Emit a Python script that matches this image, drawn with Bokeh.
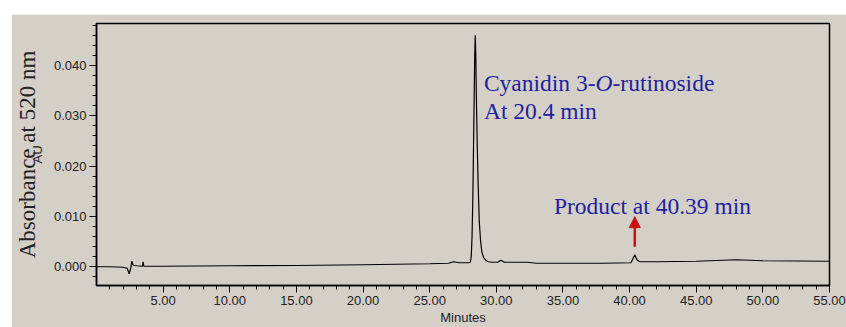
from bokeh.plotting import figure
from bokeh.models import (Range1d, FixedTicker, NumeralTickFormatter, Label,
                          Arrow, NormalHead, LinearAxis)
from bokeh.embed import file_html
from bokeh.resources import INLINE

# ---- data ----
time_min = [0.0, 1.0, 2.0, 2.3, 2.45, 2.55, 2.65, 2.75, 3.0, 3.45, 3.5, 3.55,
            5.0, 10.0, 15.0, 20.0, 25.0, 26.4, 26.8, 27.2, 27.9,
            28.05, 28.12, 28.18, 28.24, 28.29, 28.34, 28.38, 28.42, 28.46,
            28.5, 28.57, 28.64, 28.72, 28.82, 28.92, 29.05, 29.2, 29.4, 29.7,
            30.1, 30.35, 30.6, 31.5, 32.3, 33.0, 35.0, 38.0, 40.1, 40.25,
            40.39, 40.55, 40.75, 42.0, 45.0, 48.0, 50.0, 55.0]
absorbance_au = [-0.0001, -0.0001, -0.0002, -0.0004, -0.0015, -0.0006, 0.0010,
                 0.0002, 0.0001, 0.0000, 0.0009, 0.0000,
                 0.0000, 0.0001, 0.00015, 0.0003, 0.0005, 0.0006, 0.0009, 0.0007,
                 0.0007,
                 0.0008, 0.0020, 0.0060, 0.0140, 0.0240, 0.0340, 0.0420, 0.0461,
                 0.0420, 0.0340, 0.0240, 0.0160, 0.0090, 0.0050, 0.0028, 0.0017,
                 0.0012, 0.0009, 0.0008,
                 0.0008, 0.0012, 0.0008, 0.0008, 0.0008, 0.0006, 0.0006, 0.0006,
                 0.0007, 0.0015, 0.0023, 0.0013, 0.0009, 0.0009, 0.0010, 0.0013,
                 0.0011, 0.0010]

x_major_ticks = [5, 10, 15, 20, 25, 30, 35, 40, 45, 50, 55]
y_major_ticks = [0.0, 0.01, 0.02, 0.03, 0.04]

peak_label_1 = ["Cyanidin 3-", "O", "-rutinoside"]
peak_label_2 = "At 20.4 min"
product_label = "Product at 40.39 min"
product_time = 40.39
y_title = "Absorbance at 520 nm"
y_unit = "AU"
x_title = "Minutes"

GRAY = "#d4d0c8"
BLUE = "#1f1fa0"
RED = "#cc1111"
SERIF = "Liberation Serif"
SANS = "Liberation Sans"
FS = 23.5

p = figure(width=835, height=313, output_backend="svg", toolbar_location=None,
           x_range=Range1d(0, 55), y_range=Range1d(-0.00384, 0.04844),
           min_border_left=84, min_border_right=17, min_border_top=9,
           min_border_bottom=41)
p.margin = (14, 0, 0, 11)
p.background_fill_color = GRAY
p.border_fill_color = GRAY
p.outline_line_color = "black"
p.outline_line_width = 1.5
p.grid.visible = False

p.line(time_min, absorbance_au, line_color="black", line_width=1.2)

# axes
xa = p.xaxis[0]
xa.ticker = FixedTicker(ticks=x_major_ticks,
                        minor_ticks=[t for t in range(1, 55) if t % 5 != 0])
xa.formatter = NumeralTickFormatter(format="0.00")
ya = p.yaxis[0]
ya.ticker = FixedTicker(ticks=y_major_ticks,
                        minor_ticks=[round(-0.002 + 0.002 * i, 3) for i in range(26)
                                     if i % 5 != 1])
ya.formatter = NumeralTickFormatter(format="0.000")
for ax in (xa, ya):
    ax.axis_line_color = "black"
    ax.axis_line_width = 1.5
    ax.major_tick_in = 0
    ax.major_tick_out = 7
    ax.minor_tick_in = 0
    ax.minor_tick_out = 4
    ax.major_tick_line_color = "black"
    ax.minor_tick_line_color = "black"
    ax.major_label_text_font = SANS
    ax.major_label_text_font_size = "13px"
    ax.major_label_text_color = "#222222"
    ax.axis_label_text_font = SANS
    ax.axis_label_text_font_size = "13px"
    ax.axis_label_text_font_style = "normal"
    ax.axis_label_text_color = "#222222"
xa.major_label_standoff = 3
xa.axis_label = x_title
xa.axis_label_standoff = 2
ya.major_label_standoff = 3
ya.axis_label = y_unit
ya.axis_label_standoff = 6

# outer serif y title as a tick-less axis
ta = LinearAxis(ticker=FixedTicker(ticks=[]), axis_label=y_title,
                axis_line_color=None, major_tick_out=0, major_tick_in=0,
                minor_tick_out=0, minor_tick_in=0, major_label_standoff=0,
                axis_label_standoff=-13, axis_label_text_font=SERIF,
                axis_label_text_font_size="23px",
                axis_label_text_font_style="normal",
                axis_label_text_color="#222222")
p.add_layout(ta, "left")

# peak annotation
offs = [0, 4.750 * FS, (4.750 + 0.722) * FS]
styles = ["normal", "italic", "normal"]
for t, o, s in zip(peak_label_1, offs, styles):
    p.add_layout(Label(x=29.07, y=0.0365, x_offset=o, text=t, text_font=SERIF,
                       text_font_style=s, text_font_size=f"{FS}px",
                       text_color=BLUE, text_baseline="alphabetic"))
p.add_layout(Label(x=29.07, y=0.0310, text=peak_label_2, text_font=SERIF,
                   text_font_size=f"{FS}px", text_color=BLUE,
                   text_baseline="alphabetic"))
p.add_layout(Label(x=34.32, y=0.01194, text=product_label, text_font=SERIF,
                   text_font_size=f"{FS}px", text_color=BLUE,
                   text_baseline="alphabetic"))

p.add_layout(Arrow(x_start=product_time, y_start=0.0039, x_end=product_time,
                   y_end=0.0099, line_color=RED, line_width=2.5,
                   end=NormalHead(size=11, fill_color=RED, line_color=RED)))

open("out.html", "w").write(file_html(p, INLINE))
